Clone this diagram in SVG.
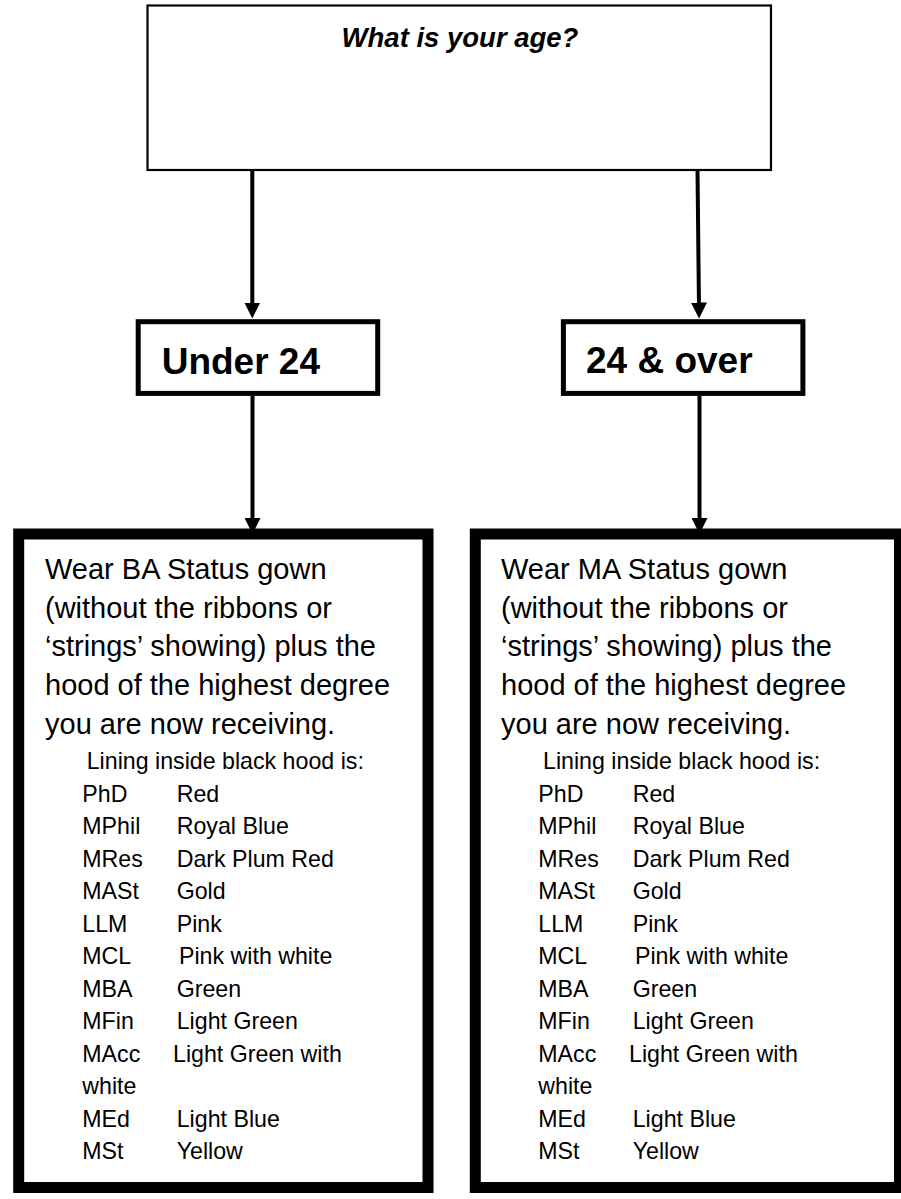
<svg xmlns="http://www.w3.org/2000/svg" width="901" height="1199" viewBox="0 0 901 1199">
  <style>
    .box { fill: #fff; stroke: #000; }
    .conn { stroke: #000; stroke-width: 4; fill: none; }
    .t { font-family: "Liberation Sans", Arial, sans-serif; fill: #000; }
    .body { font-size: 29px; }
    .list { font-size: 23.2px; }
    .head { font-size: 37px; font-weight: bold; }
  </style>
  <defs>
    <marker id="arrow" markerUnits="userSpaceOnUse" markerWidth="16" markerHeight="16" viewBox="0 0 16 16" refX="6" refY="8" orient="auto">
      <path d="M0,0 L16,8 L0,16 z" fill="#000"/>
    </marker>
  </defs>
  <rect x="0" y="0" width="901" height="1199" fill="#fff"/>

  <g id="connectors">
    <line class="conn" x1="252.3" y1="170" x2="252.3" y2="308.5" marker-end="url(#arrow)"/>
    <line class="conn" x1="697.5" y1="170" x2="699" y2="308.5" marker-end="url(#arrow)"/>
    <line class="conn" x1="252.5" y1="396" x2="252.5" y2="524" marker-end="url(#arrow)"/>
    <line class="conn" x1="699.5" y1="396" x2="699.5" y2="524" marker-end="url(#arrow)"/>
  </g>

  <g id="node-question">
    <rect class="box" x="147.5" y="5.5" width="623.5" height="164.5" stroke-width="2.2"/>
    <text class="t" x="460" y="46.7" font-size="27.5" font-weight="bold" font-style="italic" text-anchor="middle">What is your age?</text>
  </g>

  <g id="node-under24">
    <rect class="box" x="138.2" y="321.7" width="239.5" height="71.7" stroke-width="5"/>
    <text class="t head" x="161.7" y="374">Under 24</text>
  </g>

  <g id="node-24over">
    <rect class="box" x="563.4" y="321.7" width="239.5" height="71.7" stroke-width="5"/>
    <text class="t head" x="586" y="373">24 &amp; over</text>
  </g>

  <g id="node-ba">
    <rect class="box" x="18.7" y="534" width="409.3" height="653.5" stroke-width="11"/>
    <text class="t body" x="45" y="579.3">Wear BA Status gown</text>
    <text class="t body" x="45" y="617.5">(without the ribbons or</text>
    <text class="t body" x="45" y="656.2">‘strings’ showing) plus the</text>
    <text class="t body" x="45" y="695">hood of the highest degree</text>
    <text class="t body" x="45" y="733.7">you are now receiving.</text>
    <text class="t list" x="86.7" y="769.3">Lining inside black hood is:</text>
    <g class="t list">
      <text x="82.3" y="801.5">PhD</text><text x="176.7" y="801.5">Red</text>
      <text x="82.3" y="834">MPhil</text><text x="176.7" y="834">Royal Blue</text>
      <text x="82.3" y="866.5">MRes</text><text x="176.7" y="866.5">Dark Plum Red</text>
      <text x="82.3" y="899">MASt</text><text x="176.7" y="899">Gold</text>
      <text x="82.3" y="931.5">LLM</text><text x="176.7" y="931.5">Pink</text>
      <text x="82.3" y="964">MCL</text><text x="179" y="964">Pink with white</text>
      <text x="82.3" y="996.5">MBA</text><text x="176.7" y="996.5">Green</text>
      <text x="82.3" y="1029">MFin</text><text x="176.7" y="1029">Light Green</text>
      <text x="82.3" y="1061.5">MAcc</text><text x="173" y="1061.5">Light Green with</text>
      <text x="82.3" y="1094">white</text>
      <text x="82.3" y="1126.5">MEd</text><text x="176.7" y="1126.5">Light Blue</text>
      <text x="82.3" y="1159">MSt</text><text x="176.7" y="1159">Yellow</text>
    </g>
  </g>

  <g id="node-ma">
    <rect class="box" x="475.3" y="534" width="424.2" height="653.5" stroke-width="11"/>
    <text class="t body" x="501" y="579.3">Wear MA Status gown</text>
    <text class="t body" x="501" y="617.5">(without the ribbons or</text>
    <text class="t body" x="501" y="656.2">‘strings’ showing) plus the</text>
    <text class="t body" x="501" y="695">hood of the highest degree</text>
    <text class="t body" x="501" y="733.7">you are now receiving.</text>
    <text class="t list" x="543" y="769.3">Lining inside black hood is:</text>
    <g class="t list">
      <text x="538.3" y="801.5">PhD</text><text x="632.7" y="801.5">Red</text>
      <text x="538.3" y="834">MPhil</text><text x="632.7" y="834">Royal Blue</text>
      <text x="538.3" y="866.5">MRes</text><text x="632.7" y="866.5">Dark Plum Red</text>
      <text x="538.3" y="899">MASt</text><text x="632.7" y="899">Gold</text>
      <text x="538.3" y="931.5">LLM</text><text x="632.7" y="931.5">Pink</text>
      <text x="538.3" y="964">MCL</text><text x="635" y="964">Pink with white</text>
      <text x="538.3" y="996.5">MBA</text><text x="632.7" y="996.5">Green</text>
      <text x="538.3" y="1029">MFin</text><text x="632.7" y="1029">Light Green</text>
      <text x="538.3" y="1061.5">MAcc</text><text x="629" y="1061.5">Light Green with</text>
      <text x="538.3" y="1094">white</text>
      <text x="538.3" y="1126.5">MEd</text><text x="632.7" y="1126.5">Light Blue</text>
      <text x="538.3" y="1159">MSt</text><text x="632.7" y="1159">Yellow</text>
    </g>
  </g>
</svg>
